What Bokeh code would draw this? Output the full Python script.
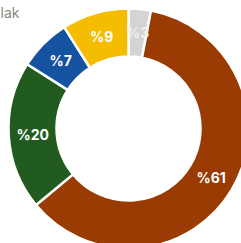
import numpy as np
from bokeh.plotting import figure
from bokeh.models import Range1d, ColumnDataSource
from bokeh.core.properties import value
from bokeh.embed import file_html
from bokeh.resources import INLINE

# data (clockwise from 12 o'clock)
labels = ["%3", "%61", "%20", "%7", "%9"]
values = [3, 61, 20, 7, 9]
colors = ["#d4d4d4", "#993b02", "#215b1f", "#1553a0", "#f5bd02"]
label_colors = ["#f0f0f0", "white", "white", "white", "white"]
title_text = "lak"

W, H = 241, 243
p = figure(width=W, height=H, output_backend="svg", toolbar_location=None,
           x_range=Range1d(0, W), y_range=Range1d(0, H),
           min_border=0, outline_line_color=None)
p.axis.visible = False
p.grid.visible = False
p.background_fill_color = "white"
p.border_fill_color = "white"

cx, cy = 128, 243 - 128
r_in, r_out = 72, 120

vals = np.array(values, dtype=float)
frac = vals / vals.sum()
cum = np.concatenate([[0], np.cumsum(frac)])
theta1 = cum[:-1] * 2 * np.pi
theta2 = cum[1:] * 2 * np.pi
start = np.pi / 2 - theta2
end = np.pi / 2 - theta1
mid = (start + end) / 2
r_lab = (r_in + r_out) / 2

src = ColumnDataSource(dict(start=start, end=end, color=colors,
                            lx=cx + r_lab * np.cos(mid), ly=cy + r_lab * np.sin(mid),
                            label=labels, lc=label_colors))

p.annular_wedge(x=cx, y=cy, inner_radius=r_in, outer_radius=r_out,
                start_angle="start", end_angle="end", fill_color="color",
                line_color="white", line_width=2.5, source=src)

p.text(x="lx", y="ly", text="label", text_color="lc", source=src,
       text_align="center", text_baseline="middle",
       text_font=value("Inter"), text_font_size="14px", text_font_style="bold")

p.text(x=[0], y=[243 - 12], text=[title_text], text_color="#858585",
       text_align="left", text_baseline="middle",
       text_font=value("Inter"), text_font_size="14px")

open("out.html", "w").write(file_html(p, INLINE))
